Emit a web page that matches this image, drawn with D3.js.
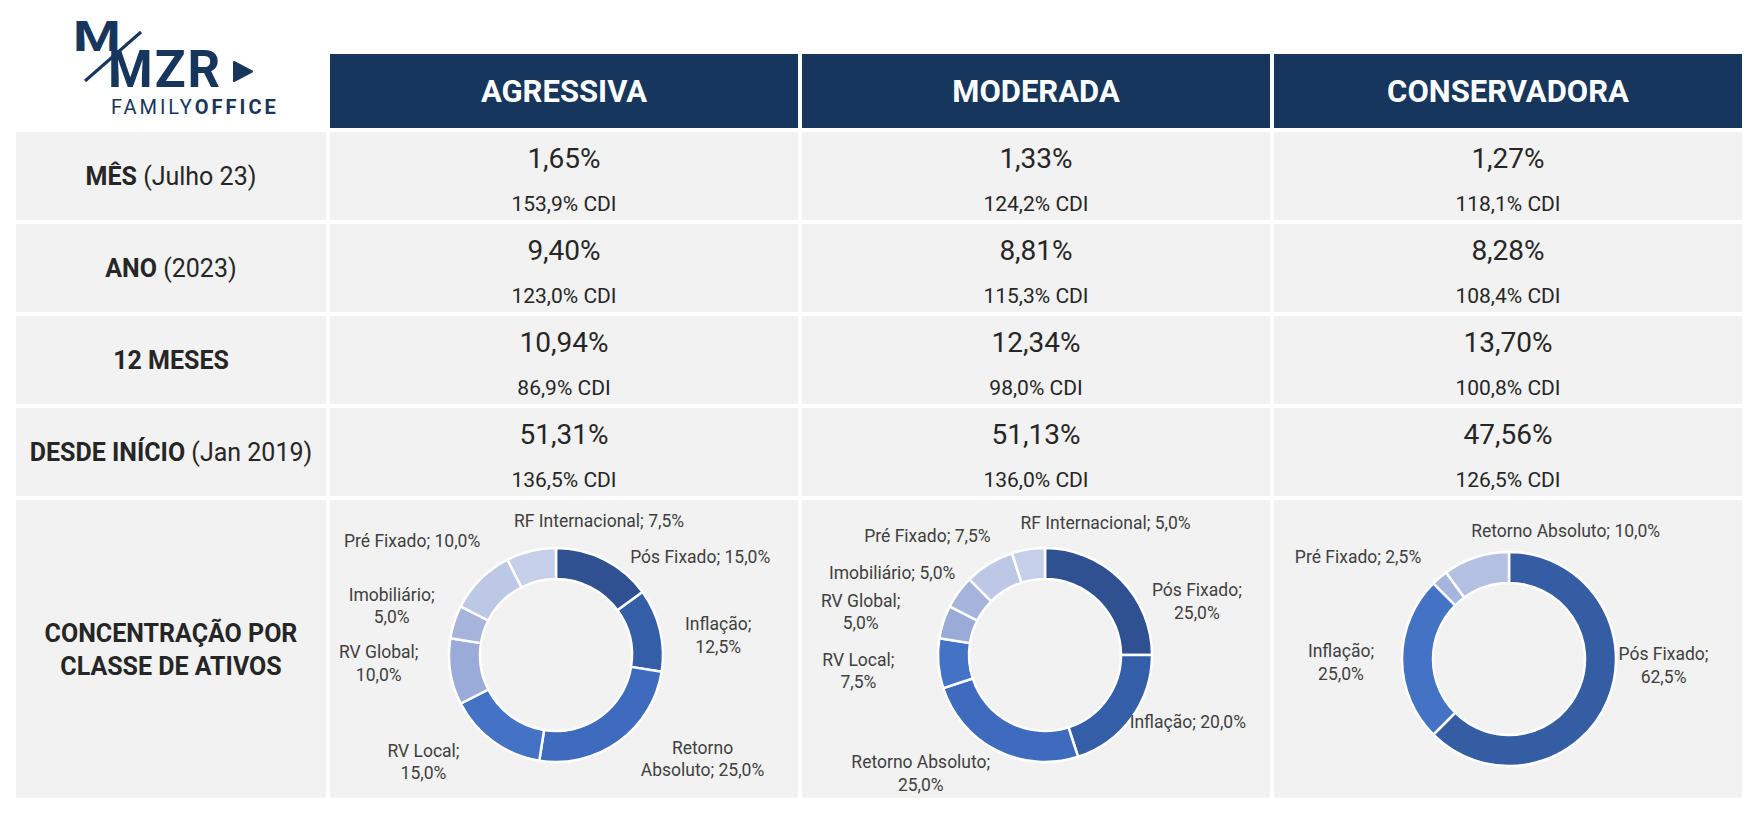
<!DOCTYPE html>
<html>
<head>
<meta charset="utf-8">
<script src="https://cdn.jsdelivr.net/npm/d3@7"></script>
<style>
  body { margin: 0; background: #fff; }
  text { font-family: Roboto, "Noto Sans", sans-serif; }
</style>
</head>
<body>
<div id="chart"></div>
<script>
// data
var profiles = ["AGRESSIVA", "MODERADA", "CONSERVADORA"];
var rowBold = ["MÊS", "ANO", "12 MESES", "DESDE INÍCIO"];
var rowNote = ["(Julho 23)", "(2023)", "", "(Jan 2019)"];
var allocTitle = ["CONCENTRAÇÃO POR", "CLASSE DE ATIVOS"];

// rentabilidade (%), one row per period, one column per profile
var returnPct = [
  [1.65, 1.33, 1.27],
  [9.40, 8.81, 8.28],
  [10.94, 12.34, 13.70],
  [51.31, 51.13, 47.56]
];
// % do CDI
var returnCdi = [
  [153.9, 124.2, 118.1],
  [123.0, 115.3, 108.4],
  [86.9, 98.0, 100.8],
  [136.5, 136.0, 126.5]
];

var agressivaClasses = ["Pós Fixado", "Inflação", "Retorno Absoluto", "RV Local", "RV Global", "Imobiliário", "Pré Fixado", "RF Internacional"];
var agressivaWeights = [15.0, 12.5, 25.0, 15.0, 10.0, 5.0, 10.0, 7.5];
var moderadaClasses = ["Pós Fixado", "Inflação", "Retorno Absoluto", "RV Local", "RV Global", "Imobiliário", "Pré Fixado", "RF Internacional"];
var moderadaWeights = [25.0, 20.0, 25.0, 7.5, 5.0, 5.0, 7.5, 5.0];
var conservadoraClasses = ["Pós Fixado", "Inflação", "Pré Fixado", "Retorno Absoluto"];
var conservadoraWeights = [62.5, 25.0, 2.5, 10.0];

// layout / styles
var width = 1758, height = 816;
var navy = "#17365d", cellFill = "#f2f2f2", ink = "#262626", labelInk = "#404040";
var palette8 = ["#2f5191", "#355ea9", "#3e6bbd", "#4472c4", "#9babd8", "#a6b4dc", "#bdc7e6", "#c6cfea"];
var palette4 = ["#345da3", "#4472c4", "#a6b5dd", "#b4c0e2"];
var outerR = 107, innerR = 76, labelR = outerR + 30;
var donutShift = [[-8, 6], [9, 6], [1, 10]];
// hand placed data labels: nudge from the default spot, and how the text wraps
// brk: 0 = one line, 1 = break after ";", 2 = break after the first word
var labelLayout = [
  [[82, 24, 0], [29, 12, 1], [66, -7, 2], [-52, -4, 1], [-42, -13, 1], [-34, -7, 1], [-47, -17, 0], [75, -1, 0]],
  [[55, 43, 1], [32, -14, 0], [-62, -4, 1], [-50, 5, 1], [-54, -1, 1], [-42, -2, 0], [-46, -3, 0], [82, 3, 0]],
  [[28, -46, 1], [-31, 3, 1], [-62, 2, 0], [99, 2, 0]]
];

var br = d3.formatLocale({decimal: ",", thousands: ".", grouping: [3], currency: ["R$", ""]});
var fmt2 = br.format(".2f"), fmt1 = br.format(".1f");

var svg = d3.select("#chart").append("svg")
    .attr("width", width)
    .attr("height", height);

// columns and rows
var x = d3.scaleBand().domain(profiles).range([330, 1742]).paddingInner(4 / 472);
var y = d3.scaleBand().domain(d3.range(4)).range([132, 496]).paddingInner(4 / 92);
var labelX0 = 16, labelX1 = 326;
var headTop = 54, headBottom = 128;
var allocTop = 500, allocBottom = 798;

// logo
var logo = svg.append("g").attr("fill", navy);
logo.append("text").attr("transform", "translate(73,51) scale(1.3,1)")
    .style("font-size", "42px").style("font-weight", 700).text("M");
logo.append("text").attr("x", 108).attr("y", 87)
    .style("font-size", "51px").style("font-weight", 700).style("letter-spacing", "2px").text("MZR");
logo.append("line").attr("x1", 85).attr("y1", 81).attr("x2", 141).attr("y2", 32)
    .attr("stroke", navy).attr("stroke-width", 3);
logo.append("path").attr("d", "M234,62 L252,71.5 L234,81 Z")
    .attr("stroke", navy).attr("stroke-width", 2).attr("stroke-linejoin", "round");
var fam = logo.append("text").attr("x", 111).attr("y", 114)
    .style("font-size", "20px").style("letter-spacing", "3px");
fam.append("tspan").style("font-weight", 400).text("FAMILY");
fam.append("tspan").style("font-weight", 700).text("OFFICE");

// header
var head = svg.append("g").selectAll("g").data(profiles).enter().append("g");
head.append("rect")
    .attr("x", function(d) { return x(d); })
    .attr("y", headTop)
    .attr("width", x.bandwidth())
    .attr("height", headBottom - headTop)
    .attr("fill", navy);
head.append("text")
    .attr("x", function(d) { return x(d) + x.bandwidth() / 2; })
    .attr("y", (headTop + headBottom) / 2)
    .attr("dy", "0.36em")
    .attr("text-anchor", "middle")
    .attr("fill", "#fff")
    .style("font-size", "31px")
    .style("font-weight", 700)
    .text(function(d) { return d; });

// return rows
var rows = svg.append("g").selectAll("g").data(d3.range(4)).enter().append("g");
rows.append("rect")
    .attr("x", labelX0).attr("y", function(i) { return y(i); })
    .attr("width", labelX1 - labelX0).attr("height", y.bandwidth())
    .attr("fill", cellFill);
var rl = rows.append("text")
    .attr("x", (labelX0 + labelX1) / 2)
    .attr("y", function(i) { return y(i) + y.bandwidth() / 2; })
    .attr("dy", "0.36em")
    .attr("text-anchor", "middle")
    .attr("fill", ink)
    .style("font-size", "25px");
rl.append("tspan").style("font-weight", 700).text(function(i) { return rowBold[i]; });
rl.append("tspan").style("font-weight", 400).text(function(i) { return rowNote[i] ? " " + rowNote[i] : ""; });

rows.each(function(i) {
  var g = d3.select(this);
  var cell = g.selectAll("g.cell").data(profiles).enter().append("g").attr("class", "cell");
  cell.append("rect")
      .attr("x", function(d) { return x(d); })
      .attr("y", y(i))
      .attr("width", x.bandwidth())
      .attr("height", y.bandwidth())
      .attr("fill", cellFill);
  cell.append("text")
      .attr("x", function(d) { return x(d) + x.bandwidth() / 2; })
      .attr("y", y(i) + 36)
      .attr("text-anchor", "middle")
      .attr("fill", ink)
      .style("font-size", "28px")
      .text(function(d, j) { return fmt2(returnPct[i][j]) + "%"; });
  cell.append("text")
      .attr("x", function(d) { return x(d) + x.bandwidth() / 2; })
      .attr("y", y(i) + 79)
      .attr("text-anchor", "middle")
      .attr("fill", ink)
      .style("font-size", "21px")
      .text(function(d, j) { return fmt1(returnCdi[i][j]) + "% CDI"; });
});

// allocation row
svg.append("rect")
    .attr("x", labelX0).attr("y", allocTop)
    .attr("width", labelX1 - labelX0).attr("height", allocBottom - allocTop)
    .attr("fill", cellFill);
svg.append("g").selectAll("text").data(allocTitle).enter().append("text")
    .attr("x", (labelX0 + labelX1) / 2)
    .attr("y", function(d, i) { return (allocTop + allocBottom) / 2 + (i - 0.5) * 33; })
    .attr("dy", "0.36em")
    .attr("text-anchor", "middle")
    .attr("fill", ink)
    .style("font-size", "25px")
    .style("font-weight", 700)
    .text(function(d) { return d; });

var donuts = [
  {classes: agressivaClasses, weights: agressivaWeights, colors: palette8},
  {classes: moderadaClasses, weights: moderadaWeights, colors: palette8},
  {classes: conservadoraClasses, weights: conservadoraWeights, colors: palette4}
];

var pie = d3.pie().sort(null).value(function(d) { return d.w; });
var arc = d3.arc().innerRadius(innerR).outerRadius(outerR);

donuts.forEach(function(dn, k) {
  var col = profiles[k];
  svg.append("rect")
      .attr("x", x(col)).attr("y", allocTop)
      .attr("width", x.bandwidth()).attr("height", allocBottom - allocTop)
      .attr("fill", cellFill);

  var cx = x(col) + x.bandwidth() / 2 + donutShift[k][0];
  var cy = (allocTop + allocBottom) / 2 + donutShift[k][1];
  var g = svg.append("g").attr("transform", "translate(" + cx + "," + cy + ")");

  var slices = pie(dn.classes.map(function(c, i) { return {name: c, w: dn.weights[i], i: i}; }));

  g.selectAll("path").data(slices).enter().append("path")
      .attr("d", arc)
      .attr("fill", function(d) { return dn.colors[d.index]; })
      .attr("stroke", "#fff")
      .attr("stroke-width", 2.5);

  var lh = 22.5, fs = 17.5;
  var lab = g.selectAll("text").data(slices).enter().append("text")
      .attr("text-anchor", "middle")
      .attr("fill", labelInk)
      .style("font-size", fs + "px")
      .attr("transform", function(d) {
        var a = (d.startAngle + d.endAngle) / 2;
        var lay = labelLayout[k][d.index];
        return "translate(" + (Math.sin(a) * labelR + lay[0]) + "," + (-Math.cos(a) * labelR + lay[1]) + ")";
      });
  lab.each(function(d) {
    var brk = labelLayout[k][d.index][2];
    var full = d.data.name + "; " + fmt1(d.data.w) + "%";
    var lines;
    if (brk === 1) lines = [d.data.name + ";", fmt1(d.data.w) + "%"];
    else if (brk === 2) {
      var sp = full.indexOf(" ");
      lines = [full.slice(0, sp), full.slice(sp + 1)];
    } else lines = [full];
    d3.select(this).selectAll("tspan").data(lines).enter().append("tspan")
        .attr("x", 0)
        .attr("y", function(t, i) { return (i - (lines.length - 1) / 2) * lh + fs * 0.36; })
        .text(function(t) { return t; });
  });
});
</script>
</body>
</html>
